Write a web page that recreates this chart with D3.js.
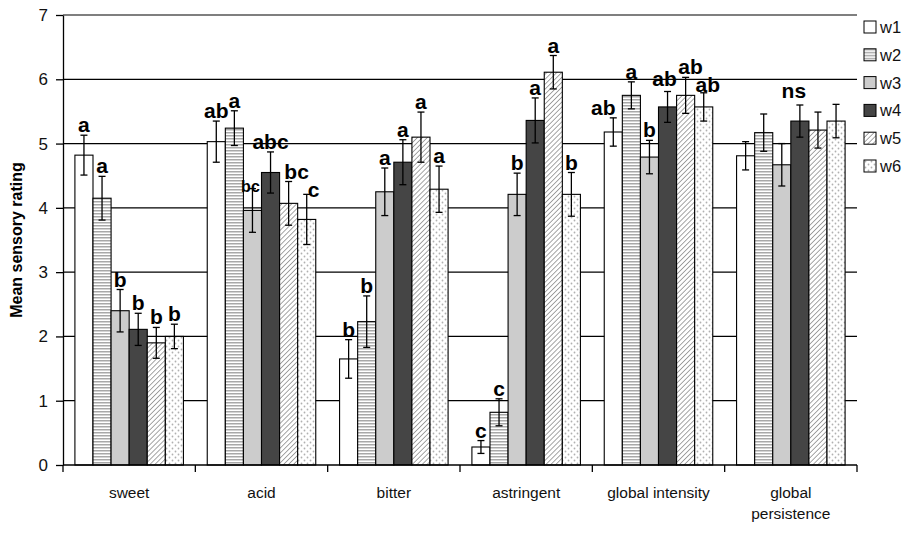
<!DOCTYPE html>
<html>
<head>
<meta charset="utf-8">
<script src="https://cdn.jsdelivr.net/npm/d3@7"></script>
<style>
  body { margin: 0; background: #fff; }
  text { font-family: "Liberation Sans", Arial, sans-serif; }
</style>
</head>
<body>
<script>
// data
var categories = ["sweet", "acid", "bitter", "astringent", "global intensity", "global persistence"];
var series = ["w1", "w2", "w3", "w4", "w5", "w6"];

var w1 = [4.82, 5.03, 1.65, 0.28, 5.18, 4.81];
var w2 = [4.15, 5.24, 2.23, 0.82, 5.75, 5.17];
var w3 = [2.40, 3.96, 4.25, 4.21, 4.79, 4.67];
var w4 = [2.11, 4.55, 4.71, 5.36, 5.57, 5.35];
var w5 = [1.90, 4.07, 5.10, 6.11, 5.75, 5.21];
var w6 = [2.00, 3.82, 4.29, 4.21, 5.57, 5.35];

var e1 = [0.31, 0.32, 0.30, 0.10, 0.22, 0.22];
var e2 = [0.34, 0.27, 0.40, 0.21, 0.21, 0.29];
var e3 = [0.33, 0.34, 0.37, 0.33, 0.26, 0.33];
var e4 = [0.25, 0.32, 0.35, 0.35, 0.24, 0.25];
var e5 = [0.24, 0.34, 0.39, 0.26, 0.28, 0.28];
var e6 = [0.19, 0.39, 0.36, 0.34, 0.22, 0.26];

var letters = [
  ["a", "a", "b", "b", "b", "b"],
  ["ab", "a", "bc", "abc", "bc", "c"],
  ["b", "b", "a", "a", "a", "a"],
  ["c", "c", "b", "a", "a", "b"],
  ["ab", "a", "b", "ab", "ab", "ab"],
  ["", "", "", "", "", ""]
];
var groupNote = ["", "", "", "", "", "ns"];
var yTicks = [0, 1, 2, 3, 4, 5, 6, 7];

var values = [w1, w2, w3, w4, w5, w6];
var errors = [e1, e2, e3, e4, e5, e6];

var width = 917, height = 558;
var margin = { top: 15, right: 60, bottom: 93, left: 63 };

var svg = d3.select("body").append("svg")
    .attr("width", width)
    .attr("height", height);

// fills
var defs = svg.append("defs");

var p2 = defs.append("pattern").attr("id", "pw2")
    .attr("patternUnits", "userSpaceOnUse").attr("width", 4).attr("height", 3);
p2.append("rect").attr("width", 4).attr("height", 3).attr("fill", "#fff");
p2.append("rect").attr("width", 4).attr("height", 1.5).attr("fill", "#a8a8a8");

var p5 = defs.append("pattern").attr("id", "pw5")
    .attr("patternUnits", "userSpaceOnUse").attr("width", 3.5).attr("height", 3.5)
    .attr("patternTransform", "rotate(45)");
p5.append("rect").attr("width", 3.5).attr("height", 3.5).attr("fill", "#fff");
p5.append("line").attr("x1", 0).attr("y1", 0).attr("x2", 0).attr("y2", 3.5)
    .attr("stroke", "#6a6a6a").attr("stroke-width", 1.2);

var p6 = defs.append("pattern").attr("id", "pw6")
    .attr("patternUnits", "userSpaceOnUse").attr("width", 6).attr("height", 6);
p6.append("rect").attr("width", 6).attr("height", 6).attr("fill", "#fff");
p6.append("circle").attr("cx", 1.5).attr("cy", 1.5).attr("r", 0.9).attr("fill", "#b0b0b0");
p6.append("circle").attr("cx", 4.5).attr("cy", 4.5).attr("r", 0.9).attr("fill", "#b0b0b0");

var fills = ["#ffffff", "url(#pw2)", "#cccccc", "#454545", "url(#pw5)", "url(#pw6)"];

// scales
var x0 = d3.scaleBand().domain(categories)
    .range([margin.left, width - margin.right])
    .paddingInner(0.18).paddingOuter(0.09);
var x1 = d3.scaleBand().domain(series).range([0, x0.bandwidth()]);
var y = d3.scaleLinear().domain([0, 7]).range([height - margin.bottom, margin.top]);

var x0px = margin.left, x1px = width - margin.right;

// gridlines
svg.append("g").selectAll("line")
    .data(yTicks.filter(function (d) { return d > 0; }))
    .enter().append("line")
    .attr("x1", x0px).attr("x2", x1px)
    .attr("y1", function (d) { return y(d); })
    .attr("y2", function (d) { return y(d); })
    .attr("stroke", "#000").attr("stroke-width", 1.2);

// bars
var bars = [];
categories.forEach(function (c, ci) {
    series.forEach(function (s, si) {
        bars.push({ c: c, ci: ci, s: s, si: si, v: values[si][ci], e: errors[si][ci], l: letters[ci][si] });
    });
});

svg.append("g").selectAll("rect")
    .data(bars).enter().append("rect")
    .attr("x", function (d) { return x0(d.c) + x1(d.s); })
    .attr("y", function (d) { return y(d.v); })
    .attr("width", x1.bandwidth())
    .attr("height", function (d) { return y(0) - y(d.v); })
    .attr("fill", function (d) { return fills[d.si]; })
    .attr("stroke", "#000").attr("stroke-width", 1.1);

// error bars
var eg = svg.append("g").attr("stroke", "#000").attr("stroke-width", 1.3);
bars.forEach(function (d) {
    var cx = x0(d.c) + x1(d.s) + x1.bandwidth() / 2;
    eg.append("line").attr("x1", cx).attr("x2", cx)
        .attr("y1", y(d.v + d.e)).attr("y2", y(d.v - d.e));
    eg.append("line").attr("x1", cx - 3.5).attr("x2", cx + 3.5)
        .attr("y1", y(d.v + d.e)).attr("y2", y(d.v + d.e));
    eg.append("line").attr("x1", cx - 3.5).attr("x2", cx + 3.5)
        .attr("y1", y(d.v - d.e)).attr("y2", y(d.v - d.e));
});

// significance letters (a few nudged like the original to avoid overlap)
var nudge = {
    "acid|w3": [-2, 6, 16], "acid|w5": [8, 0], "acid|w6": [7, 6],
    "global intensity|w1": [-10, 0], "global intensity|w4": [-3, -3],
    "global intensity|w5": [5, 0], "global intensity|w6": [4, 2]
};
svg.append("g").selectAll("text")
    .data(bars.filter(function (d) { return d.l; }))
    .enter().append("text")
    .attr("x", function (d) {
        var n = nudge[d.c + "|" + d.s] || [0, 0];
        return x0(d.c) + x1(d.s) + x1.bandwidth() / 2 + n[0];
    })
    .attr("y", function (d) {
        var n = nudge[d.c + "|" + d.s] || [0, 0];
        return y(d.v + d.e) - 3 + n[1];
    })
    .attr("text-anchor", "middle")
    .attr("font-weight", "bold")
    .attr("font-size", function (d) {
        var n = nudge[d.c + "|" + d.s];
        return (n && n[2] ? n[2] : 21) + "px";
    })
    .text(function (d) { return d.l; });

svg.append("g").selectAll("text")
    .data(categories.filter(function (c, i) { return groupNote[i]; }))
    .enter().append("text")
    .attr("x", function (c) { return x0(c) + x0.bandwidth() / 2 + 3; })
    .attr("y", function (c) {
        var i = categories.indexOf(c);
        var top = d3.max(series, function (s, si) { return values[si][i] + errors[si][i]; });
        return y(top) - 6;
    })
    .attr("text-anchor", "middle")
    .attr("font-weight", "bold").attr("font-size", "21px")
    .text(function (c) { return groupNote[categories.indexOf(c)]; });

// y axis
var yAxis = d3.axisLeft(y).tickValues(yTicks).tickFormat(d3.format("d"))
    .tickSize(7).tickSizeOuter(0).tickPadding(8);
var ya = svg.append("g").attr("transform", "translate(" + x0px + ",0)").call(yAxis);
ya.select(".domain").attr("stroke-width", 1.3);
ya.selectAll("line").attr("stroke-width", 1.3);
ya.selectAll("text").attr("font-size", "17px").attr("fill", "#111")
    .style("font-family", "'Liberation Sans', Arial, sans-serif");

// x axis with ticks on group boundaries
var step = x0.step();
var bounds = categories.map(function (c) { return x0(c) - (step - x0.bandwidth()) / 2; });
bounds.push(bounds[bounds.length - 1] + step);
var xa = svg.append("g");
xa.append("line").attr("x1", x0px).attr("x2", x1px)
    .attr("y1", y(0)).attr("y2", y(0)).attr("stroke", "#000").attr("stroke-width", 1.3);
xa.selectAll(".tk").data(bounds).enter().append("line")
    .attr("x1", function (d) { return d; }).attr("x2", function (d) { return d; })
    .attr("y1", y(0)).attr("y2", y(0) + 7)
    .attr("stroke", "#000").attr("stroke-width", 1.3);

xa.selectAll(".lab").data(categories).enter().append("text")
    .attr("x", function (c) { return x0(c) + x0.bandwidth() / 2; })
    .attr("y", y(0) + 33)
    .attr("text-anchor", "middle").attr("font-size", "15.5px").attr("fill", "#111")
    .each(function (c) {
        var words = c === "global persistence" ? ["global", "persistence"] : [c];
        var t = d3.select(this);
        words.forEach(function (w, i) {
            t.append("tspan").attr("x", t.attr("x")).attr("dy", i ? 21 : 0).text(w);
        });
    });

// y title
svg.append("text")
    .attr("transform", "translate(22," + y(3.5) + ") rotate(-90)")
    .attr("text-anchor", "middle").attr("font-weight", "bold").attr("font-size", "16px")
    .text("Mean sensory rating");

// legend
var lg = svg.append("g").selectAll("g").data(series).enter().append("g")
    .attr("transform", function (d, i) { return "translate(864," + (21 + i * 27.8) + ")"; });
lg.append("rect").attr("width", 12).attr("height", 12)
    .attr("fill", function (d, i) { return fills[i]; })
    .attr("stroke", "#000").attr("stroke-width", 1);
lg.append("text").attr("x", 16).attr("y", 12).attr("font-size", "16.5px").attr("fill", "#111")
    .text(function (d) { return d; });
</script>
</body>
</html>
